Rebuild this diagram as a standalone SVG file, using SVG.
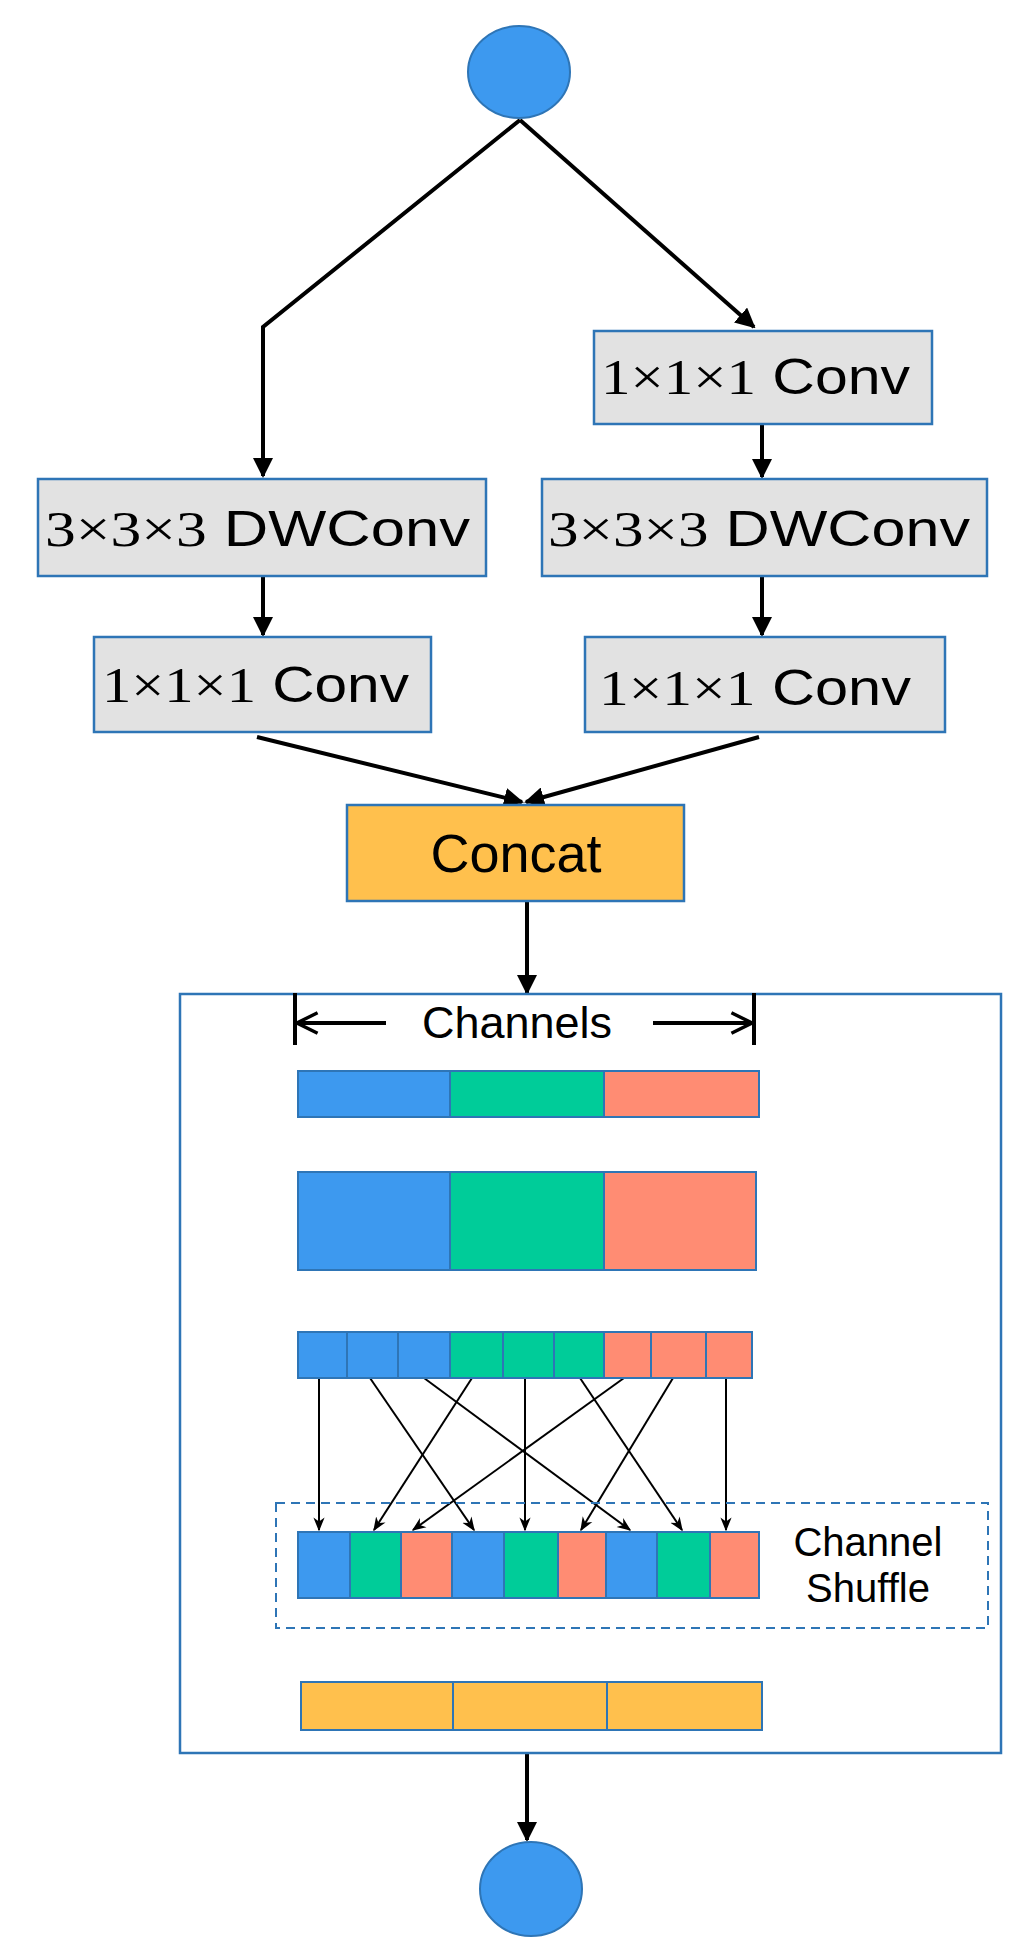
<svg xmlns="http://www.w3.org/2000/svg" width="1030" height="1959" viewBox="0 0 1030 1959">
<style>
.box{fill:#e2e2e2;stroke:#2e75b6;stroke-width:2.5}
.b{fill:#3d99ef;stroke:#2e75b6;stroke-width:2}
.g{fill:#00cc99;stroke:#2e75b6;stroke-width:2}
.s{fill:#ff8c73;stroke:#2e75b6;stroke-width:2}
.y{fill:#ffc04d;stroke:#2e75b6;stroke-width:2}
.lbl{font-size:50px;fill:#000}
.serif{font-family:"Liberation Serif",serif}
.sans{font-family:"Liberation Sans",Arial,sans-serif}
.main{stroke:#000;stroke-width:4;fill:none}
.thin{stroke:#000;stroke-width:2;fill:none}
</style>
<defs>
<marker id="ah" viewBox="0 0 10 10" refX="9" refY="5" markerWidth="5" markerHeight="5" orient="auto" markerUnits="strokeWidth"><path d="M0,0 L10,5 L0,10 z" fill="#000"/></marker>
<marker id="ahs" viewBox="0 0 10 10" refX="9" refY="5" markerWidth="7" markerHeight="7" orient="auto" markerUnits="strokeWidth"><path d="M0,1 L10,5 L0,9 L3,5 z" fill="#000"/></marker>
<marker id="open" viewBox="0 0 14 14" refX="13" refY="7" markerWidth="6" markerHeight="6" orient="auto" markerUnits="strokeWidth"><path d="M1,1 L13,7 L1,13" fill="none" stroke="#000" stroke-width="2"/></marker>
</defs>
<g id="connectors">
<polyline class="main" points="520,120 263,327 263,476" marker-end="url(#ah)"/>
<line class="main" x1="520" y1="120" x2="754" y2="327" marker-end="url(#ah)"/>
<line class="main" x1="762" y1="424" x2="762" y2="477" marker-end="url(#ah)"/>
<line class="main" x1="263" y1="576" x2="263" y2="635" marker-end="url(#ah)"/>
<line class="main" x1="762" y1="576" x2="762" y2="635" marker-end="url(#ah)"/>
<line class="main" x1="257" y1="737" x2="522" y2="802" marker-end="url(#ah)"/>
<line class="main" x1="759" y1="737" x2="526" y2="802" marker-end="url(#ah)"/>
<line class="main" x1="527" y1="901" x2="527" y2="993" marker-end="url(#ah)"/>
<line class="main" x1="527" y1="1753" x2="527" y2="1840" marker-end="url(#ah)"/>
<g id="shuffle-lines">
<line class="thin" x1="319" y1="1378" x2="319" y2="1530" marker-end="url(#ahs)"/>
<line class="thin" x1="370" y1="1378" x2="474" y2="1530" marker-end="url(#ahs)"/>
<line class="thin" x1="424" y1="1378" x2="630" y2="1530" marker-end="url(#ahs)"/>
<line class="thin" x1="472" y1="1378" x2="374" y2="1530" marker-end="url(#ahs)"/>
<line class="thin" x1="525" y1="1378" x2="525" y2="1530" marker-end="url(#ahs)"/>
<line class="thin" x1="580" y1="1378" x2="682" y2="1530" marker-end="url(#ahs)"/>
<line class="thin" x1="624" y1="1378" x2="413" y2="1530" marker-end="url(#ahs)"/>
<line class="thin" x1="673" y1="1378" x2="581" y2="1530" marker-end="url(#ahs)"/>
<line class="thin" x1="726" y1="1378" x2="726" y2="1530" marker-end="url(#ahs)"/>
</g>
</g>
<g id="input"><ellipse cx="519" cy="72" rx="51" ry="46" class="b"/></g>
<g id="r-conv1"><rect x="594" y="331" width="338" height="93" class="box"/>
<text x="601" y="394" class="lbl" textLength="309" lengthAdjust="spacingAndGlyphs"><tspan class="serif">1×1×1</tspan><tspan class="sans">  Conv</tspan></text></g>
<g id="l-dw"><rect x="38" y="479" width="448" height="97" class="box"/>
<text x="45" y="546" class="lbl" textLength="425" lengthAdjust="spacingAndGlyphs"><tspan class="serif">3×3×3</tspan><tspan class="sans"> DWConv</tspan></text></g>
<g id="r-dw"><rect x="542" y="479" width="445" height="97" class="box"/>
<text x="548" y="546" class="lbl" textLength="422" lengthAdjust="spacingAndGlyphs"><tspan class="serif">3×3×3</tspan><tspan class="sans"> DWConv</tspan></text></g>
<g id="l-conv"><rect x="94" y="637" width="337" height="95" class="box"/>
<text x="102" y="702" class="lbl" textLength="307" lengthAdjust="spacingAndGlyphs"><tspan class="serif">1×1×1</tspan><tspan class="sans">  Conv</tspan></text></g>
<g id="r-conv2"><rect x="585" y="637" width="360" height="95" class="box"/>
<text x="599" y="705" class="lbl" textLength="312" lengthAdjust="spacingAndGlyphs"><tspan class="serif">1×1×1</tspan><tspan class="sans">   Conv</tspan></text></g>
<g id="concat"><rect x="347" y="805" width="337" height="96" fill="#ffc04d" stroke="#2e75b6" stroke-width="2.5"/>
<text x="516" y="872" class="sans" font-size="54" text-anchor="middle">Concat</text></g>
<g id="shuffle-unit">
<rect x="180" y="994" width="821" height="759" fill="none" stroke="#2e75b6" stroke-width="2.5"/>
<line x1="295" y1="993" x2="295" y2="1045" stroke="#000" stroke-width="4"/>
<line x1="754" y1="993" x2="754" y2="1045" stroke="#000" stroke-width="4"/>
<line x1="386" y1="1023" x2="297" y2="1023" class="main" marker-end="url(#open)"/>
<line x1="653" y1="1023" x2="752" y2="1023" class="main" marker-end="url(#open)"/>
<text x="517" y="1038" class="sans" font-size="45" text-anchor="middle">Channels</text>
<rect x="298" y="1071" width="152" height="46" class="b"/><rect x="450" y="1071" width="154" height="46" class="g"/><rect x="604" y="1071" width="155" height="46" class="s"/>
<rect x="298" y="1172" width="152" height="98" class="b"/><rect x="450" y="1172" width="154" height="98" class="g"/><rect x="604" y="1172" width="152" height="98" class="s"/>
<rect x="298" y="1332" width="49" height="46" class="b"/><rect x="347" y="1332" width="51" height="46" class="b"/><rect x="398" y="1332" width="52" height="46" class="b"/>
<rect x="450" y="1332" width="53" height="46" class="g"/><rect x="503" y="1332" width="51" height="46" class="g"/><rect x="554" y="1332" width="50" height="46" class="g"/>
<rect x="604" y="1332" width="47" height="46" class="s"/><rect x="651" y="1332" width="55" height="46" class="s"/><rect x="706" y="1332" width="46" height="46" class="s"/>
<rect x="276" y="1503" width="712" height="125" fill="none" stroke="#2e75b6" stroke-width="2" stroke-dasharray="9,6"/>
<rect x="298" y="1532" width="52" height="66" class="b"/><rect x="350" y="1532" width="51" height="66" class="g"/><rect x="401" y="1532" width="51" height="66" class="s"/>
<rect x="452" y="1532" width="52" height="66" class="b"/><rect x="504" y="1532" width="54" height="66" class="g"/><rect x="558" y="1532" width="48" height="66" class="s"/>
<rect x="606" y="1532" width="51" height="66" class="b"/><rect x="657" y="1532" width="53" height="66" class="g"/><rect x="710" y="1532" width="49" height="66" class="s"/>
<text x="868" y="1556" class="sans" font-size="40" text-anchor="middle">Channel</text>
<text x="868" y="1602" class="sans" font-size="40" text-anchor="middle">Shuffle</text>
<rect x="301" y="1682" width="152" height="48" class="y"/><rect x="453" y="1682" width="154" height="48" class="y"/><rect x="607" y="1682" width="155" height="48" class="y"/>
</g>
<g id="output"><ellipse cx="531" cy="1889" rx="51" ry="47" class="b"/></g>
</svg>
